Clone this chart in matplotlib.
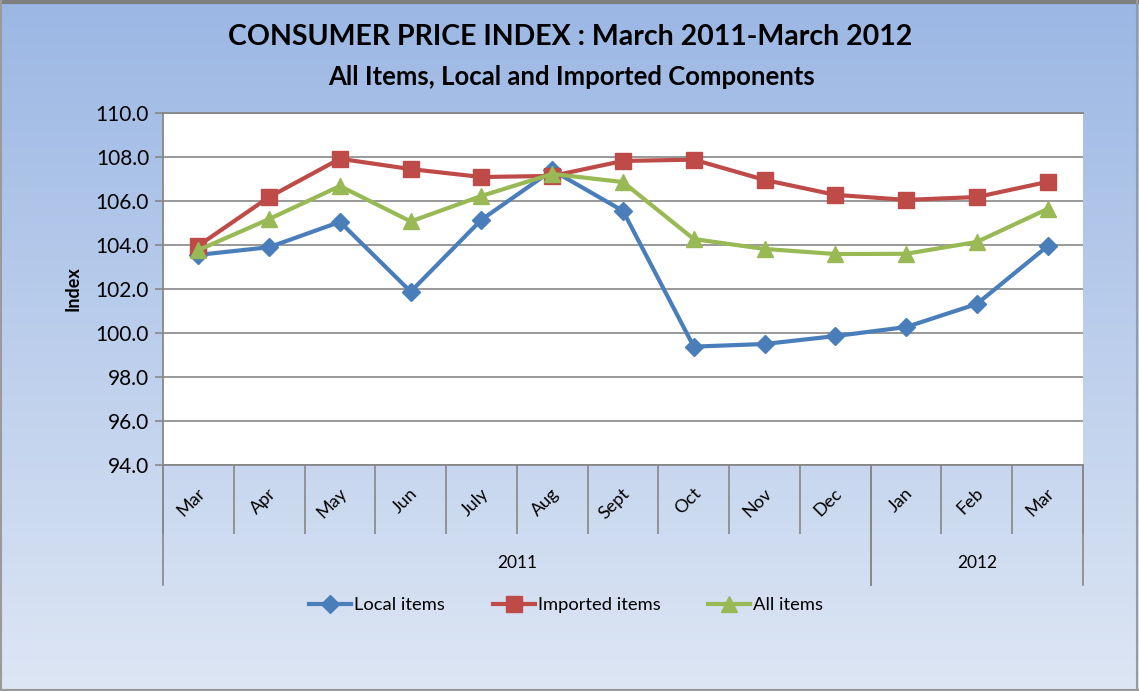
import matplotlib.pyplot as plt
import matplotlib.transforms as mtransforms
import numpy as np

# data
months = ["Mar", "Apr", "May", "Jun", "July", "Aug", "Sept",
          "Oct", "Nov", "Dec", "Jan", "Feb", "Mar"]
years = ["2011", "2012"]
year_spans = [(0, 9), (10, 12)]

local_items = [103.55, 103.9, 105.05, 101.88, 105.15, 107.4, 105.55,
               99.38, 99.5, 99.86, 100.27, 101.32, 103.95]
imported_items = [103.97, 106.18, 107.92, 107.45, 107.09, 107.14, 107.82,
                  107.88, 106.96, 106.28, 106.05, 106.18, 106.87]
all_items = [103.77, 105.18, 106.68, 105.07, 106.23, 107.23, 106.86,
             104.27, 103.82, 103.59, 103.6, 104.14, 105.64]

W, H = 1139, 691
plt.rcParams['font.family'] = ['Lato', 'DejaVu Sans']

fig = plt.figure(figsize=(W / 100, H / 100), dpi=100)

# gradient background
bg = fig.add_axes([0, 0, 1, 1], zorder=-10)
top = np.array([155, 183, 228]) / 255
bot = np.array([221, 230, 244]) / 255
t = np.linspace(0, 1, 256)[:, None]
grad = top[None, :] * (1 - t) + bot[None, :] * t
bg.imshow(grad[:, None, :], aspect='auto', extent=[0, 1, 0, 1])
bg.set_xlim(0, 1)
bg.set_ylim(0, 1)
bg.axis('off')
bg.plot([0, 1], [0.997, 0.997], color='#7f7f7f', lw=3)
bg.plot([0.9985, 0.9985], [0, 1], color='#9a9a9a', lw=1.5)
bg.plot([0.001, 0.001], [0, 1], color='#9a9a9a', lw=1.5)
bg.plot([0, 1], [0.001, 0.001], color='#9a9a9a', lw=1.5)

L, R, B, T = 163, 1083, 465, 113
ax = fig.add_axes([L / W, 1 - B / H, (R - L) / W, (B - T) / H])
ax.set_facecolor('white')

x = np.arange(len(months))
ax.plot(x, local_items, color='#4a7ebb', lw=3, marker='D', ms=9,
        label='Local items', zorder=3)
ax.plot(x, imported_items, color='#be4b48', lw=3, marker='s', ms=11,
        label='Imported items', zorder=3)
ax.plot(x, all_items, color='#98b954', lw=3, marker='^', ms=11,
        label='All items', zorder=3)

ax.set_xlim(-0.5, len(months) - 0.5)
ax.set_ylim(94, 110)
ax.set_yticks(np.arange(94, 110.1, 2))
ax.set_yticklabels([f"{v:.1f}" for v in np.arange(94, 110.1, 2)], fontsize=15)
ax.yaxis.grid(True, color='#878787', lw=1.2)
ax.set_axisbelow(True)
ax.tick_params(axis='y', length=6, color='#878787', width=1.2, pad=4)
ax.set_ylabel("Index", fontsize=13, fontweight='bold', labelpad=10)

ax.spines['right'].set_visible(False)
for s in ['left', 'bottom', 'top']:
    ax.spines[s].set_color('#878787')
    ax.spines[s].set_linewidth(1.3)

# month ticks: labels at centres, separator marks at boundaries
ax.set_xticks(x)
ax.set_xticklabels(months, rotation=45, ha='right', va='top', fontsize=13)
ax.tick_params(axis='x', which='major', length=0, pad=16)
shift = mtransforms.ScaledTranslation(10 / 100, 2 / 100, fig.dpi_scale_trans)
for lab in ax.get_xticklabels():
    lab.set_transform(lab.get_transform() + shift)
ax.set_xticks(np.arange(-0.5, len(months), 1), minor=True)
ax.tick_params(axis='x', which='minor', length=50, color='#878787', width=1.2)

# year level
trans = mtransforms.blended_transform_factory(ax.transData, ax.transAxes)
depth = (585 - B) / (B - T)
for (a, b), yr in zip(year_spans, years):
    ax.plot([a - 0.5, a - 0.5], [0, -depth], color='#878787', lw=1.2,
            transform=trans, clip_on=False)
    ax.plot([b + 0.5, b + 0.5], [0, -depth], color='#878787', lw=1.2,
            transform=trans, clip_on=False)
    ax.text((a + b) / 2, -(563 - B) / (B - T), yr, transform=trans,
            ha='center', va='center', fontsize=12.5)

fig.text(570 / W, 1 - 37 / H, "CONSUMER PRICE INDEX : March 2011-March 2012",
         ha='center', va='center', fontsize=20.5, fontweight='bold')
fig.text(572 / W, 1 - 77 / H, "All Items, Local and Imported Components",
         ha='center', va='center', fontsize=18.5, fontweight='bold')

fig.legend(loc='center', bbox_to_anchor=(566 / W, 1 - 605 / H), ncol=3,
           frameon=False, fontsize=13.2, handlelength=2.3, columnspacing=2.6,
           handletextpad=0.15)

fig.savefig("out.png", dpi=100)
